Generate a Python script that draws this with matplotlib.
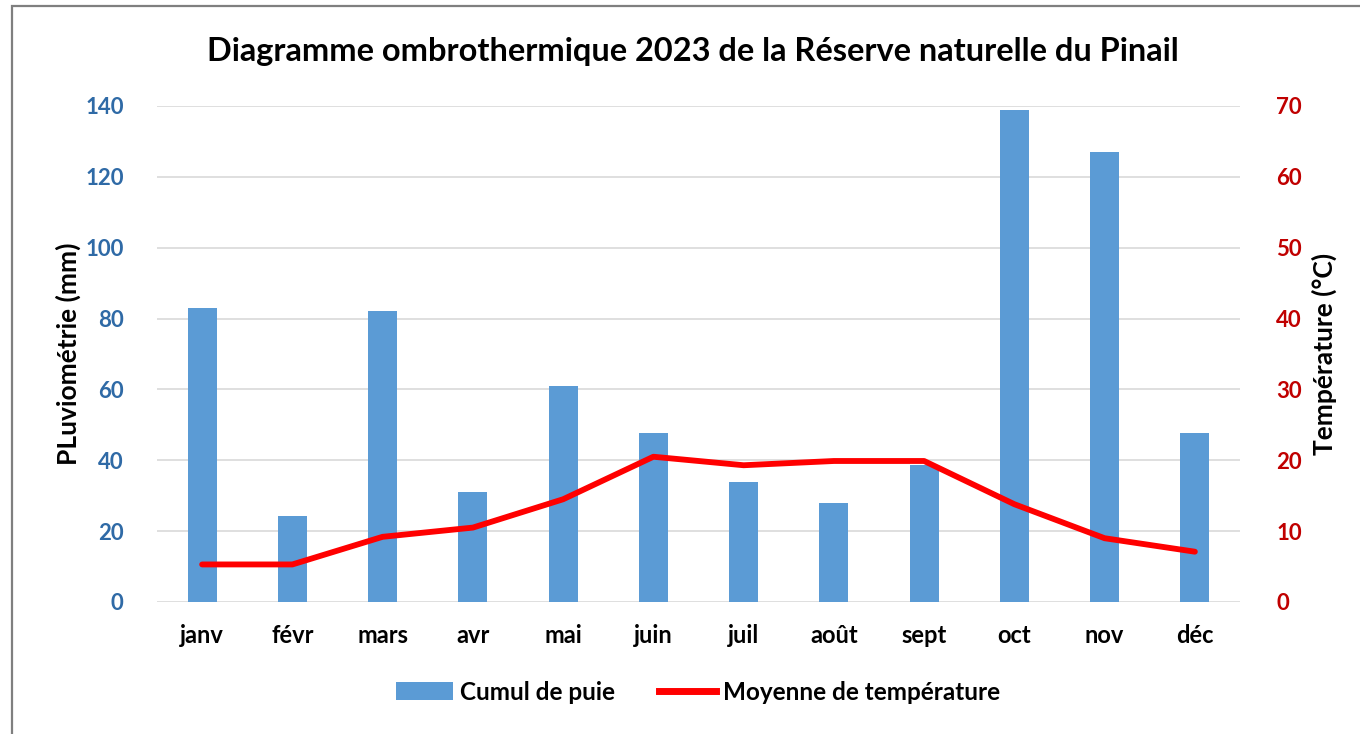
import matplotlib
matplotlib.use("Agg")
import matplotlib.pyplot as plt
from matplotlib.lines import Line2D
from matplotlib.patches import Patch, Rectangle

months = ["janv", "févr", "mars", "avr", "mai", "juin", "juil", "août", "sept", "oct", "nov", "déc"]
rain_mm = [83.0, 24.2, 82.2, 31.0, 61.0, 47.8, 33.9, 27.9, 38.6, 139.0, 127.0, 47.7]
temp_c = [5.3, 5.3, 9.2, 10.5, 14.5, 20.5, 19.3, 19.9, 19.9, 13.8, 9.0, 7.1]
left_ticks = [0, 20, 40, 60, 80, 100, 120, 140]
right_ticks = [0, 10, 20, 30, 40, 50, 60, 70]

plt.rcParams['font.family'] = ['Lato', 'DejaVu Sans']
plt.rcParams['font.weight'] = 'bold'

BLUE = "#5B9BD5"
TICK_BLUE = "#2F6AA6"
RED = "#FF0000"
DARK_RED = "#C00000"
GRID = "#D9D9D9"

fig = plt.figure(figsize=(13.6, 7.34), dpi=100)
fig.patch.set_facecolor("white")
fig.add_artist(Rectangle((12 / 1360, -0.01), 1.0, (734 - 6) / 734 + 0.01,
                         transform=fig.transFigure, fill=False,
                         edgecolor="#7F7F7F", linewidth=1.6))

ax = fig.add_axes([157 / 1360, (734 - 602) / 734, (1240 - 157) / 1360, (602 - 106) / 734])
x = list(range(len(months)))
ax.bar(x, rain_mm, width=0.32, color=BLUE, zorder=2, label="Cumul de puie")
ax.set_ylim(0, 140)
ax.set_xlim(-0.5, len(months) - 0.5)
ax.set_yticks(left_ticks)
ax.yaxis.grid(True, color=GRID, linewidth=1.2, zorder=0)
ax.set_axisbelow(True)
for s in ax.spines.values():
    s.set_visible(False)
ax.tick_params(axis="both", length=0)
ax.tick_params(axis="y", pad=24, labelsize=16, labelcolor=TICK_BLUE)
ax.tick_params(axis="x", pad=16, labelsize=17, labelcolor="black")
ax.set_xticks(x)
ax.set_xticklabels(months)
for t in ax.get_yticklabels() + ax.get_xticklabels():
    t.set_fontweight("bold")
ax.set_ylabel("PLuviométrie (mm)", fontsize=19, fontweight="bold", labelpad=3)

ax2 = ax.twinx()
ax2.plot(x, temp_c, color=RED, linewidth=4.2, solid_capstyle="round", zorder=3)
ax2.set_ylim(0, 70)
ax2.set_yticks(right_ticks)
for s in ax2.spines.values():
    s.set_visible(False)
ax2.tick_params(axis="y", length=0, pad=26, labelsize=16, labelcolor=DARK_RED)
for t in ax2.get_yticklabels():
    t.set_fontweight("bold")
ax2.set_ylabel("Température (°C)", fontsize=19, fontweight="bold", labelpad=7)

fig.text(693 / 1360, (734 - 51) / 734, "Diagramme ombrothermique 2023 de la Réserve naturelle du Pinail",
         ha="center", va="center", fontsize=23.4, fontweight="bold")

handles = [Patch(facecolor=BLUE, edgecolor="none"),
           Line2D([0], [0], color=RED, linewidth=5)]
fig.legend(handles, ["Cumul de puie", "Moyenne de température"],
           loc="center", bbox_to_anchor=(698 / 1360, (734 - 692) / 734),
           ncol=2, frameon=False, prop={"size": 17.5, "weight": "bold"},
           handlelength=2.35, handleheight=0.75, handletextpad=0.3, columnspacing=1.8)

fig.savefig("out.png", dpi=100, facecolor="white")
